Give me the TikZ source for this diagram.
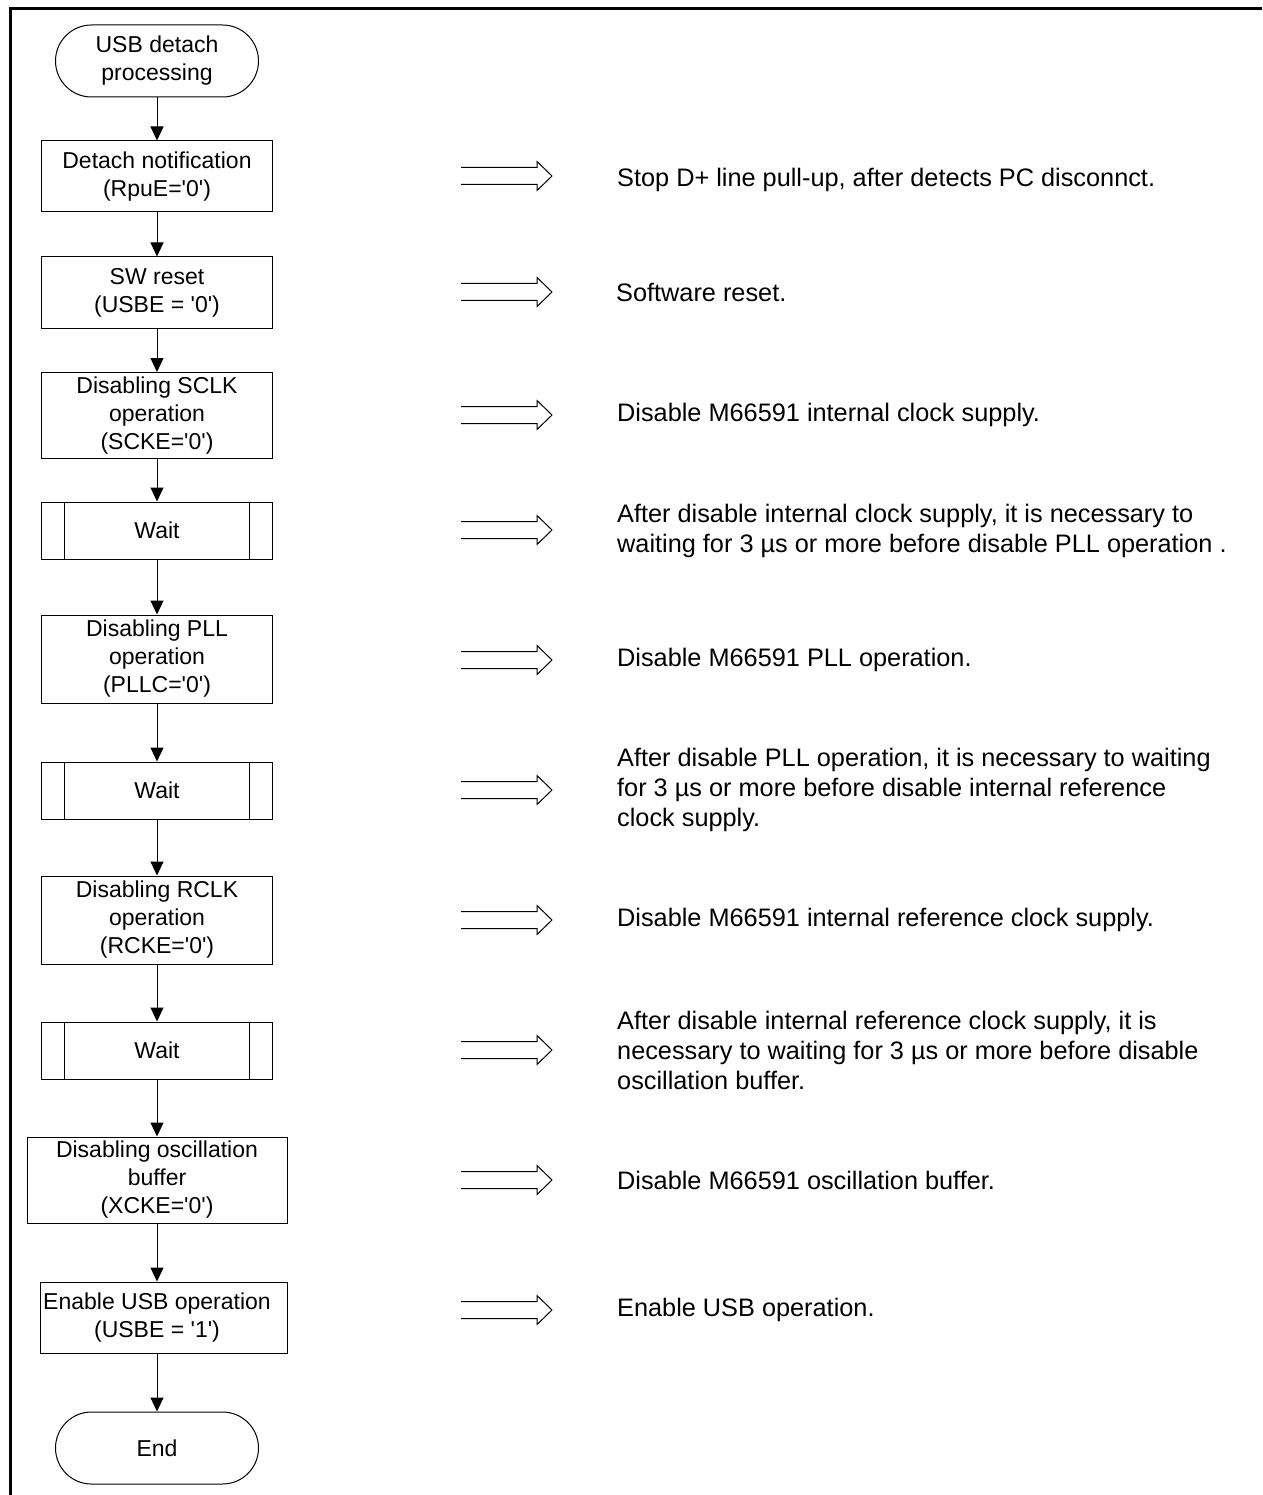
\documentclass[tikz,border=0pt]{standalone}
\usepackage{fontspec}
\setmainfont{Liberation Sans}
\usetikzlibrary{arrows.meta}
\newcommand\sq{\textquotesingle}
\begin{document}
\begin{tikzpicture}[x=1pt,y=-1pt,
  every node/.style={font=\fontsize{23}{28}\selectfont, align=center, inner sep=0pt},
  term/.style={draw, line width=1pt, rounded corners=36pt, minimum width=203pt, minimum height=72pt},
  proc/.style={draw, line width=1pt, minimum width=231pt},
  waitbox/.style={draw, line width=1pt, minimum width=231pt, minimum height=57pt,
    path picture={\draw[line width=1pt]
      ([xshift=23pt]path picture bounding box.north west) -- ([xshift=23pt]path picture bounding box.south west)
      ([xshift=-23pt]path picture bounding box.north east) -- ([xshift=-23pt]path picture bounding box.south east);}},
  flow/.style={line width=1pt, -{Triangle[length=14pt,width=13pt]}},
  note/.style={anchor=west, align=left, font=\fontsize{25.3}{30}\selectfont},
  hollow/.pic={\draw[line width=1pt] (0,-8.5) -- (76,-8.5) -- (76,-14.5) -- (91,0) -- (76,14.5) -- (76,8.5) -- (0,8.5);}
]
\useasboundingbox (0,0) rectangle (1262,1495);
% page frame
\draw[line width=3pt] (10,1495) -- (10,8.5) -- (1262,8.5);

% flow column
\node[term] (s) at (157,61) {USB detach\\processing};
\node[proc, minimum height=71pt] (b1) at (157,176.5) {Detach notification\\(RpuE=\sq0\sq)};
\node[proc, minimum height=71pt] (b2) at (157,292.5) {SW reset\\(USBE = \sq0\sq)};
\node[proc, minimum height=86pt] (b3) at (157,415.5) {Disabling SCLK\\operation\\(SCKE=\sq0\sq)};
\node[waitbox] (w1) at (157,530.5) {Wait};
\node[proc, minimum height=88pt] (b4) at (157,659) {Disabling PLL\\operation\\(PLLC=\sq0\sq)};
\node[waitbox] (w2) at (157,790.5) {Wait};
\node[proc, minimum height=88pt] (b5) at (157,920) {Disabling RCLK\\operation\\(RCKE=\sq0\sq)};
\node[waitbox] (w3) at (157,1050.5) {Wait};
\node[proc, minimum width=260pt, minimum height=86pt] (b6) at (157,1180) {Disabling oscillation\\buffer\\(XCKE=\sq0\sq)};
\node[proc, minimum width=247pt, minimum height=71pt] (b7) at (163.5,1317.5) {\hspace*{-13pt}Enable USB operation\\\hspace*{-13pt}(USBE = \sq1\sq)};
\node[term] (e) at (157,1448) {End};

\draw[flow] (s.south) -- (b1.north);
\draw[flow] (b1.south) -- (b2.north);
\draw[flow] (b2.south) -- (b3.north);
\draw[flow] (b3.south) -- (w1.north);
\draw[flow] (w1.south) -- (b4.north);
\draw[flow] (b4.south) -- (w2.north);
\draw[flow] (w2.south) -- (b5.north);
\draw[flow] (b5.south) -- (w3.north);
\draw[flow] (w3.south) -- (b6.north);
\draw[flow] (b6.south) -- (b6.south |- b7.north);
\draw[flow] (b6.south |- b7.south) -- (e.north);

% hollow arrows
\pic at (461,176) {hollow};
\pic at (461,292) {hollow};
\pic at (461,415) {hollow};
\pic at (461,530) {hollow};
\pic at (461,660) {hollow};
\pic at (461,790) {hollow};
\pic at (461,920) {hollow};
\pic at (461,1050) {hollow};
\pic at (461,1180) {hollow};
\pic at (461,1310) {hollow};

% notes
\node[note] (n1) at (617,180) {Stop D+ line pull-up, after detects PC disconnct.};
\node[note] (n2) at (616,292) {Software reset.};
\node[note] (n3) at (617,415) {Disable M66591 internal clock supply.};
\node[note] (n4) at (617,531) {After disable internal clock supply, it is necessary to\\waiting for 3 µs or more before disable PLL operation .};
\node[note] (n5) at (617,660) {Disable M66591 PLL operation.};
\node[note] (n6) at (617,790) {After disable PLL operation, it is necessary to waiting\\for 3 µs or more before disable internal reference\\clock supply.};
\node[note] (n7) at (617,920) {Disable M66591 internal reference clock supply.};
\node[note] (n8) at (617,1050) {After disable internal reference clock supply, it is\\necessary to waiting for 3 µs or more before disable\\oscillation buffer.};
\node[note] (n9) at (617,1180) {Disable M66591 oscillation buffer.};
\node[note] (n10) at (617,1310) {Enable USB operation.};
\end{tikzpicture}
\end{document}
